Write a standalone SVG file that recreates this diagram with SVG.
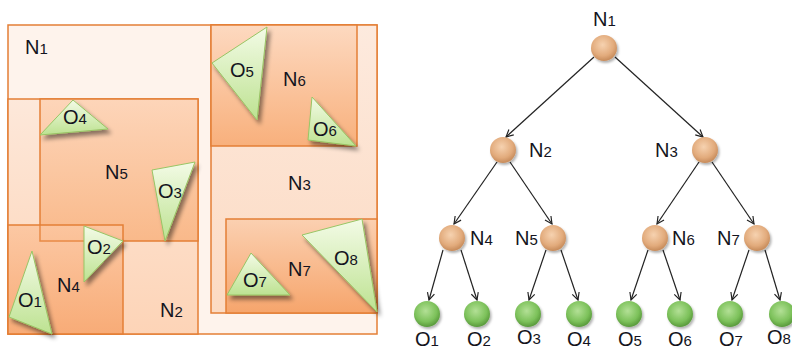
<svg xmlns="http://www.w3.org/2000/svg" width="792" height="351" viewBox="0 0 792 351">
<style>
.lbl{font-family:"Liberation Sans","Open Sans",sans-serif;font-size:20px;fill:#141420}
.sub{font-size:15px}
.reg{stroke:#e47f36;stroke-width:1.5}
.tri{stroke:#98c565;stroke-width:1;fill:url(#gTri);filter:url(#sh)}
.edge{stroke:#222;stroke-width:1.2;fill:none;marker-end:url(#arr)}
.inner{fill:url(#gInner)}
.leaf{fill:url(#gLeaf)}
</style>
<defs>
<filter id="sh" x="-30%" y="-30%" width="170%" height="170%"><feDropShadow dx="3" dy="4" stdDeviation="2.2" flood-color="#000" flood-opacity="0.45"/></filter>
<filter id="shs" x="-40%" y="-40%" width="190%" height="190%"><feDropShadow dx="1.5" dy="2" stdDeviation="1.2" flood-color="#000" flood-opacity="0.3"/></filter>
<linearGradient id="gTri" x1="0" y1="0" x2="0" y2="1"><stop offset="0" stop-color="#f3fbe6"/><stop offset="1" stop-color="#bde291"/></linearGradient>
<linearGradient id="gN2" x1="0" y1="0" x2="0" y2="1"><stop offset="0" stop-color="#fde8da"/><stop offset="1" stop-color="#fdd4b7"/></linearGradient>
<linearGradient id="gN5" x1="0" y1="0" x2="0" y2="1"><stop offset="0" stop-color="#fdd5b9"/><stop offset="1" stop-color="#f9b98a"/></linearGradient>
<linearGradient id="gN4" x1="0" y1="0" x2="0" y2="1"><stop offset="0" stop-color="#fcc6a0"/><stop offset="1" stop-color="#f7a770"/></linearGradient>
<linearGradient id="gN3" x1="0" y1="0" x2="0" y2="1"><stop offset="0" stop-color="#fdeade"/><stop offset="1" stop-color="#fcdac2"/></linearGradient>
<linearGradient id="gN6" x1="0" y1="0" x2="0" y2="1"><stop offset="0" stop-color="#fdd9c0"/><stop offset="1" stop-color="#f8b07c"/></linearGradient>
<linearGradient id="gN7" x1="0" y1="0" x2="0" y2="1"><stop offset="0" stop-color="#fbd0b1"/><stop offset="1" stop-color="#f6a56c"/></linearGradient>
<radialGradient id="gInner" cx="0.45" cy="0.38" r="0.6"><stop offset="0" stop-color="#f6d2b0"/><stop offset="0.7" stop-color="#e2ab7c"/><stop offset="1" stop-color="#c98e5e"/></radialGradient>
<radialGradient id="gLeaf" cx="0.45" cy="0.38" r="0.6"><stop offset="0" stop-color="#b3e096"/><stop offset="0.7" stop-color="#7cc15a"/><stop offset="1" stop-color="#5c9d3e"/></radialGradient>
<marker id="arr" viewBox="0 0 10 10" refX="9" refY="5" markerWidth="9" markerHeight="9" markerUnits="userSpaceOnUse" orient="auto"><path d="M1,1 L9,5 L1,9" fill="none" stroke="#222" stroke-width="1.3"/></marker>
</defs>

<g id="region-N1"><rect x="8" y="25" width="369" height="309" fill="#fef3ec" class="reg"/></g>
<g id="region-N2"><rect x="8" y="99" width="190" height="235" fill="url(#gN2)" class="reg"/></g>
<g id="region-N5"><rect x="40" y="99" width="158" height="142" fill="url(#gN5)" class="reg"/></g>
<g id="region-N4"><rect x="8" y="225" width="115" height="109" fill="url(#gN4)" fill-opacity="0.9" class="reg"/></g>
<g id="region-N3"><rect x="211" y="25" width="166" height="288" fill="url(#gN3)" class="reg"/></g>
<g id="region-N6"><rect x="211" y="25" width="146" height="121" fill="url(#gN6)" class="reg"/></g>
<g id="region-N7"><rect x="226" y="219" width="151" height="94" fill="url(#gN7)" class="reg"/></g>
<g id="n5-edges-through" fill="none" class="reg" stroke-opacity="0.8"><path d="M40,225 V241 H123"/></g>

<g id="objects">
<polygon id="obj-O4" class="tri" points="73,100 40,135 108,129"/>
<polygon id="obj-O5" class="tri" points="267,27 212,63 257,120"/>
<polygon id="obj-O6" class="tri" points="312,97 308,140 356,146"/>
<polygon id="obj-O3" class="tri" points="152,170 195,162 165,241"/>
<polygon id="obj-O2" class="tri" points="84,226 84,282 123,241"/>
<polygon id="obj-O1" class="tri" points="32,251 9,317 52,334"/>
<polygon id="obj-O7" class="tri" points="251,253 227,295 290,295"/>
<polygon id="obj-O8" class="tri" points="302,235 362,219 377,312"/>
</g>

<g id="region-labels" class="lbl">
<text x="25" y="54">N<tspan class="sub">1</tspan></text>
<text x="63" y="124">O<tspan class="sub">4</tspan></text>
<text x="105" y="179">N<tspan class="sub">5</tspan></text>
<text x="230" y="77">O<tspan class="sub">5</tspan></text>
<text x="283" y="86">N<tspan class="sub">6</tspan></text>
<text x="313" y="136">O<tspan class="sub">6</tspan></text>
<text x="158" y="198">O<tspan class="sub">3</tspan></text>
<text x="87" y="254">O<tspan class="sub">2</tspan></text>
<text x="57" y="292">N<tspan class="sub">4</tspan></text>
<text x="18" y="307">O<tspan class="sub">1</tspan></text>
<text x="160" y="317">N<tspan class="sub">2</tspan></text>
<text x="288" y="190">N<tspan class="sub">3</tspan></text>
<text x="288" y="276">N<tspan class="sub">7</tspan></text>
<text x="243" y="287">O<tspan class="sub">7</tspan></text>
<text x="334" y="265">O<tspan class="sub">8</tspan></text>
</g>

<g id="connectors">
<line class="edge" x1="594" y1="57" x2="506" y2="137"/>
<line class="edge" x1="615" y1="57" x2="703" y2="137"/>
<line class="edge" x1="497" y1="162" x2="454" y2="224"/>
<line class="edge" x1="510" y1="162" x2="552" y2="224"/>
<line class="edge" x1="699" y1="162" x2="657" y2="224"/>
<line class="edge" x1="712" y1="162" x2="754" y2="224"/>
<line class="edge" x1="443" y1="250" x2="429" y2="300"/>
<line class="edge" x1="461" y1="250" x2="477" y2="300"/>
<line class="edge" x1="546" y1="250" x2="529" y2="300"/>
<line class="edge" x1="561" y1="250" x2="578" y2="300"/>
<line class="edge" x1="648" y1="250" x2="631" y2="300"/>
<line class="edge" x1="663" y1="250" x2="680" y2="300"/>
<line class="edge" x1="749" y1="250" x2="732" y2="300"/>
<line class="edge" x1="765" y1="250" x2="780" y2="300"/>
</g>

<g id="node-N1"><circle class="inner" cx="604" cy="48" r="13" filter="url(#shs)"/><text class="lbl" x="593" y="26">N<tspan class="sub">1</tspan></text></g>
<g id="node-N2"><circle class="inner" cx="503" cy="150" r="13" filter="url(#shs)"/><text class="lbl" x="529" y="157">N<tspan class="sub">2</tspan></text></g>
<g id="node-N3"><circle class="inner" cx="705" cy="150" r="13" filter="url(#shs)"/><text class="lbl" x="655" y="157">N<tspan class="sub">3</tspan></text></g>
<g id="node-N4"><circle class="inner" cx="452" cy="238" r="13" filter="url(#shs)"/><text class="lbl" x="470" y="245">N<tspan class="sub">4</tspan></text></g>
<g id="node-N5"><circle class="inner" cx="553" cy="238" r="13" filter="url(#shs)"/><text class="lbl" x="515" y="245">N<tspan class="sub">5</tspan></text></g>
<g id="node-N6"><circle class="inner" cx="655" cy="238" r="13" filter="url(#shs)"/><text class="lbl" x="672" y="245">N<tspan class="sub">6</tspan></text></g>
<g id="node-N7"><circle class="inner" cx="757" cy="238" r="13" filter="url(#shs)"/><text class="lbl" x="717" y="245">N<tspan class="sub">7</tspan></text></g>

<g id="node-O1"><circle class="leaf" cx="427" cy="314" r="13" filter="url(#shs)"/><text class="lbl" x="415" y="346">O<tspan class="sub">1</tspan></text></g>
<g id="node-O2"><circle class="leaf" cx="477" cy="314" r="13" filter="url(#shs)"/><text class="lbl" x="467" y="346">O<tspan class="sub">2</tspan></text></g>
<g id="node-O3"><circle class="leaf" cx="528" cy="314" r="13" filter="url(#shs)"/><text class="lbl" x="517" y="344">O<tspan class="sub">3</tspan></text></g>
<g id="node-O4"><circle class="leaf" cx="579" cy="314" r="13" filter="url(#shs)"/><text class="lbl" x="567" y="346">O<tspan class="sub">4</tspan></text></g>
<g id="node-O5"><circle class="leaf" cx="629" cy="314" r="13" filter="url(#shs)"/><text class="lbl" x="618" y="346">O<tspan class="sub">5</tspan></text></g>
<g id="node-O6"><circle class="leaf" cx="680" cy="314" r="13" filter="url(#shs)"/><text class="lbl" x="668" y="346">O<tspan class="sub">6</tspan></text></g>
<g id="node-O7"><circle class="leaf" cx="730" cy="314" r="13" filter="url(#shs)"/><text class="lbl" x="719" y="346">O<tspan class="sub">7</tspan></text></g>
<g id="node-O8"><circle class="leaf" cx="782" cy="314" r="13" filter="url(#shs)"/><text class="lbl" x="767" y="344">O<tspan class="sub">8</tspan></text></g>
</svg>
